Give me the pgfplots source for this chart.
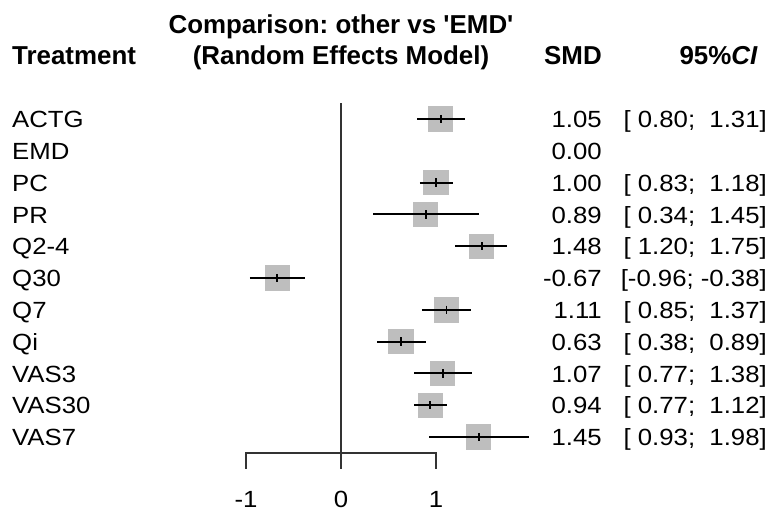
\documentclass[border=0pt]{standalone}
\usepackage{pgfplots}
\pgfplotsset{compat=1.18}
\usepackage{pgfplotstable}
\usepackage{fontspec}
\setmainfont{Liberation Sans}[FakeStretch=1.1]
\newfontfamily\hdfont{Liberation Sans}
\definecolor{boxgray}{RGB}{190,190,190}
\definecolor{linegray}{RGB}{51,51,51}
% protected space and semicolon, so they survive inside point meta
\protected\def\sp{\nobreakspace}
\protected\def\sc{;}

% row, estimate, CI bounds, CI text (EMD is the reference, row 2)
\pgfplotstableread{
row est lo hi ci
1 1.05 0.80 1.31 [\sp0.80\sc\sp\sp1.31]
3 1.00 0.83 1.18 [\sp0.83\sc\sp\sp1.18]
4 0.89 0.34 1.45 [\sp0.34\sc\sp\sp1.45]
5 1.48 1.20 1.75 [\sp1.20\sc\sp\sp1.75]
6 -0.67 -0.96 -0.38 [-0.96\sc\sp-0.38]
7 1.11 0.85 1.37 [\sp0.85\sc\sp\sp1.37]
8 0.63 0.38 0.89 [\sp0.38\sc\sp\sp0.89]
9 1.07 0.77 1.38 [\sp0.77\sc\sp\sp1.38]
10 0.94 0.77 1.12 [\sp0.77\sc\sp\sp1.12]
11 1.45 0.93 1.98 [\sp0.93\sc\sp\sp1.98]
}\estimates

\pgfplotstableread{
row name smd
1 ACTG 1.05
2 EMD 0.00
3 PC 1.00
4 PR 0.89
5 Q2-4 1.48
6 Q30 -0.67
7 Q7 1.11
8 Qi 0.63
9 VAS3 1.07
10 VAS30 0.94
11 VAS7 1.45
}\texts

\begin{document}
\begin{tikzpicture}
\tikzset{body/.style={font=\fontsize{23.5}{28}\selectfont, text=black, inner sep=0pt},
         head/.style={font=\hdfont\bfseries\fontsize{26}{30}\selectfont\frenchspacing, text=black, inner sep=0pt}}
\begin{axis}[width=771bp, height=512bp, scale only axis, hide axis, clip=false, clip marker paths=true,
  xmin=-3.5895, xmax=4.5263, ymin=-2.742, ymax=13.358, y dir=reverse]
% reference line and x axis
\addplot[linegray, line width=1.9bp] coordinates {(0,0.5) (0,12)};
\addplot[linegray, line width=1.9bp] coordinates {(-1,12) (-1,11.5) (1,11.5) (1,12)};
% squares
\addplot[boxgray, only marks, mark=square*, mark size=12.2bp, mark options={fill=boxgray, draw=boxgray, line width=0pt}]
  table[x=est, y=row] {\estimates};
% confidence intervals, lo to hi
\addplot[black, line width=1.9bp, -, quiver={u=\thisrow{hi}-\thisrow{lo}, v=0, scale arrows=1,
    every arrow/.append style={line width=1.9bp, black}}]
  table[x=lo, y=row] {\estimates};
% short vertical tick at the estimate
\addplot[black, line width=1.9bp, -, quiver={u=0, v=0.26, scale arrows=1,
    every arrow/.append style={line width=1.9bp, black}}]
  table[x=est, y expr=\thisrow{row}-0.13] {\estimates};
% text columns
\addplot[only marks, mark=none, nodes near coords, point meta=explicit symbolic,
  nodes near coords style={body, anchor=base west, yshift=-8.7bp}]
  table[x expr=-3.463, y=row, meta=name] {\texts};
\addplot[only marks, mark=none, nodes near coords, point meta=explicit symbolic,
  nodes near coords style={body, anchor=base east, yshift=-8.7bp}]
  table[x expr=2.747, y=row, meta=smd] {\texts};
\addplot[only marks, mark=none, nodes near coords, point meta=explicit symbolic,
  nodes near coords style={body, anchor=base east, yshift=-8.7bp}]
  table[x expr=4.484, y=row, meta=ci] {\estimates};
\addplot[only marks, mark=none, nodes near coords, point meta=explicit symbolic,
  nodes near coords style={body, anchor=base, yshift=-8.7bp}]
  table[x=x, y=y, meta=lab] {
x y lab
-1 12.93 -1
0 12.93 0
1 12.93 1
};
% headers
\node[head, anchor=base west] at (axis cs:-3.463,-0.72) {Treatment};
\node[head, anchor=base] at (axis cs:0,-1.698) {Comparison: other vs \textquotesingle EMD\textquotesingle};
\node[head, anchor=base] at (axis cs:0,-0.72) {(Random Effects Model)};
\node[head, anchor=base east] at (axis cs:2.747,-0.72) {SMD};
\node[head, anchor=base east] at (axis cs:4.389,-0.72) {95\%\textit{CI}};
\end{axis}
\pgfresetboundingbox
\useasboundingbox (current axis.south west) rectangle (current axis.north east);
\end{tikzpicture}
\end{document}
